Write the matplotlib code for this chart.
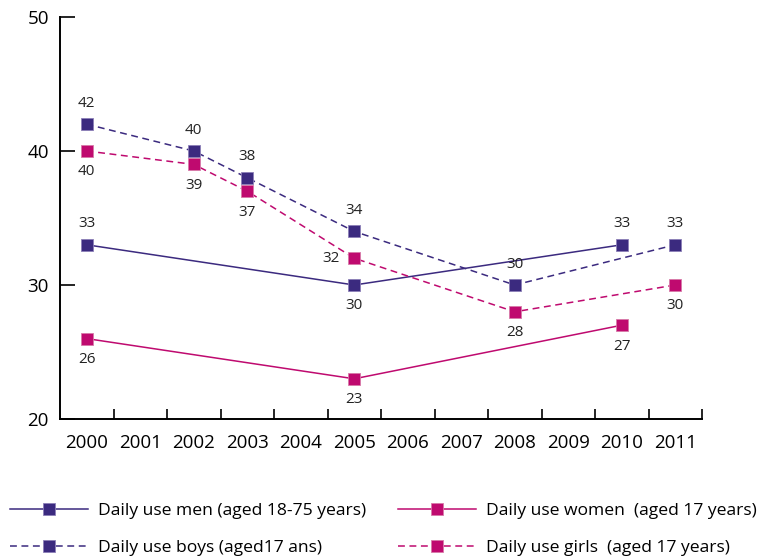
import matplotlib
matplotlib.use("Agg")
import matplotlib.pyplot as plt
from matplotlib.ticker import FixedLocator

plt.rcParams['font.family'] = ['Open Sans', 'DejaVu Sans']

years = [str(y) for y in range(2000, 2012)]
purple = '#3b2a7f'
magenta = '#bf0a6f'

men_years = ['2000', '2005', '2010']
men_vals = [33, 30, 33]
women_years = ['2000', '2005', '2010']
women_vals = [26, 23, 27]
boys_years = ['2000', '2002', '2003', '2005', '2008', '2011']
boys_vals = [42, 40, 38, 34, 30, 33]
girls_years = ['2000', '2002', '2003', '2005', '2008', '2011']
girls_vals = [40, 39, 37, 32, 28, 30]

# label placement: 'a' above, 'b' below, 'l' left
men_pos = ['a', 'b', 'a']
women_pos = ['b', 'b', 'b']
boys_pos = ['a', 'a', 'a', 'a', 'a', 'a']
girls_pos = ['b', 'b', 'b', 'l', 'b', 'b']

labels = ['Daily use men (aged 18-75 years)', 'Daily use boys (aged17 ans)',
          'Daily use women  (aged 17 years)', 'Daily use girls  (aged 17 years)']

fig = plt.figure(figsize=(7.61, 5.57), dpi=100)
ax = fig.add_axes([60/761, 1-419/557, 642/761, 402/557])

def idx(ys):
    return [years.index(y) for y in ys]

series = [
    (men_years, men_vals, men_pos, purple, '-'),
    (boys_years, boys_vals, boys_pos, purple, (0, (4.5, 3))),
    (women_years, women_vals, women_pos, magenta, '-'),
    (girls_years, girls_vals, girls_pos, magenta, (0, (4.5, 3))),
]
handles = []
for ys, vals, pos, col, ls in series:
    xs = idx(ys)
    h, = ax.plot(xs, vals, color=col, linestyle=ls, linewidth=1.1,
                 marker='s', markersize=8.5, markerfacecolor=col,
                 markeredgecolor='#8c7fb8' if col == purple else '#d77aa8',
                 markeredgewidth=0.6)
    handles.append(h)
    for x, v, p in zip(xs, vals, pos):
        if p == 'a':
            off = (0, 15)
        elif p == 'b':
            off = (0, -15)
        else:
            off = (-17, 0)
        ax.annotate(str(v), (x, v), xytext=off, textcoords='offset points',
                    ha='center', va='center', fontsize=11, color='#222222')

ax.set_xlim(-0.5, len(years) - 0.5)
ax.set_ylim(20, 50)
ax.set_yticks([20, 30, 40, 50])
ax.set_xticks(range(len(years)))
ax.set_xticklabels(years)
ax.xaxis.set_minor_locator(FixedLocator([i + 0.5 for i in range(len(years))]))
ax.tick_params(axis='x', which='major', length=0, pad=11, labelsize=13.5)
ax.tick_params(axis='x', which='minor', direction='in', length=7, width=1.2, color='black')
ax.tick_params(axis='y', which='major', direction='in', length=11, width=1.2, pad=8, labelsize=13.5)
for s in ['top', 'right']:
    ax.spines[s].set_visible(False)
for s in ['left', 'bottom']:
    ax.spines[s].set_linewidth(1.4)
    ax.spines[s].set_color('black')

leg_kw = dict(frameon=False, fontsize=12.6, handlelength=4.45, handletextpad=0.57,
              labelspacing=1.2, borderpad=0, borderaxespad=0, numpoints=1)
fig.legend([handles[0], handles[1]], labels[:2], loc='upper left',
           bbox_to_anchor=(10/761, 1-503/557), **leg_kw)
fig.legend([handles[2], handles[3]], labels[2:], loc='upper left',
           bbox_to_anchor=(398/761, 1-503/557), **leg_kw)

fig.savefig('out.png', dpi=100)
